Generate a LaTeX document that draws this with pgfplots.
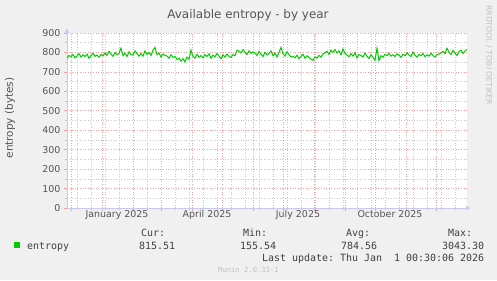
\documentclass[border=0pt]{standalone}
\usepackage{fontspec}
\setmainfont{DejaVu Sans}
\newfontfamily\monofont{DejaVu Sans Mono}
\usepackage{pgfplots}
\pgfplotsset{compat=1.18}
\usetikzlibrary{arrows.meta}
\definecolor{bg}{HTML}{F0F0F0}
\definecolor{txt}{HTML}{555555}
\definecolor{ltxt}{HTML}{404040}
\definecolor{axc}{HTML}{C8C8F0}
\definecolor{mgrid}{HTML}{F2A0A0}
\definecolor{ngrid}{HTML}{C8C8C8}
\definecolor{lgreen}{HTML}{00CC00}
\definecolor{faint}{HTML}{C0C0C0}
\begin{document}
\begin{tikzpicture}[x=1bp,y=1bp]
\path[fill=bg, use as bounding box] (0,0) rectangle (497,280);
\begin{axis}[
  at={(67bp,72bp)}, anchor=south west,
  scale only axis, width=400bp, height=175bp,
  xmin=-35, xmax=365, ymin=0, ymax=900,
  axis background/.style={fill=white},
  axis lines=left,
  axis line style={draw=axc, line width=0.8bp},
  every outer x axis line/.append style={-{Latex[length=5bp,width=5bp]}, shorten >=-4bp},
  every outer y axis line/.append style={-{Latex[length=5bp,width=5bp]}, shorten >=-5bp},
  xtick={-31,0,31,59,90,120,151,181,212,243,273,304,334},
  xticklabels={},
  minor xtick={-25,-11,3,17,31,45,59,73,87,101,115,129,143,157,171,185,199,213,227,241,255,269,283,297,311,325,339,353},
  extra x ticks={15,105,196,288},
  extra x tick labels={January 2025,April 2025,July 2025,October 2025},
  extra x tick style={grid=none, major tick length=0pt, tick label style={yshift=1bp}},
  ytick={0,100,...,900},
  minor ytick={50,150,...,850},
  grid=both,
  major grid style={draw=mgrid, line width=0.6bp, dotted},
  minor grid style={draw=ngrid, line width=0.6bp, dotted},
  tick align=outside,
  major tick length=3bp, minor tick length=2bp,
  major tick style={draw=mgrid, line width=0.6bp},
  minor tick style={draw=ngrid, line width=0.6bp},
  tick label style={font=\fontsize{9.5}{11}\selectfont, text=txt},
  /pgf/number format/assume math mode=true,
]
\addplot[lgreen, line width=1bp, mark=none] coordinates {
(-35,770)(-33,785)(-31,778)(-29,790)(-27,772)(-25,781)(-23,795)(-21,776)(-19,788)(-17,779)(-15,792)(-13,770)(-11,784)(-9,796)(-7,780)(-5,787)(-3,775)
(-1,790)(1,782)(3,798)(5,785)(7,806)(9,792)(11,780)(13,800)(15,788)(17,795)(19,822)(21,784)(23,797)(25,779)(27,803)(29,790)(31,786)(33,808)(35,794)(37,781)
(39,795)(41,781)(43,808)(45,790)(47,799)(49,784)(51,812)(53,826)(55,788)(57,797)(59,776)(61,792)(63,785)
(65,782)(67,770)(69,788)(71,775)(73,779)(75,764)(77,771)(79,755)(81,768)(83,752)(85,776)(87,765)(89,812)(91,780)(93,771)(95,790)(97,776)
(99,784)(101,772)(103,789)(105,779)(107,793)(109,770)(111,786)(113,777)(115,795)(117,781)(119,768)(121,788)(123,776)(125,792)(127,780)(129,774)(131,789)(133,783)
(135,812)(137,806)(139,798)(141,815)(143,801)(145,790)(147,808)(149,796)(151,803)
(153,798)(155,784)(157,805)(159,790)(161,779)(163,801)(165,787)(167,795)(169,808)(171,783)(173,797)(175,776)(177,800)(179,826)(181,793)(183,781)(185,804)(187,789)(189,777)
(191,780)(193,772)(195,786)(197,768)(199,779)(201,791)(203,770)(205,783)(207,774)(209,766)(211,760)(213,778)(215,771)(217,785)(219,776)(221,793)
(223,798)(225,806)(227,790)(229,812)(231,801)(233,815)(235,797)(237,808)(239,788)(241,818)(243,795)
(245,787)(247,778)(249,794)(251,781)(253,799)(255,772)(257,790)(259,784)(261,777)(263,796)(265,780)(267,769)(269,788)(271,775)(273,760)(275,822)(277,758)(279,783)(281,776)
(283,790)(285,784)(287,796)(289,781)(291,788)(293,779)(295,793)(297,786)(299,775)(301,791)(303,783)(305,798)(307,787)(309,779)(311,802)(313,785)(315,776)(317,790)(319,783)(321,795)(323,778)(325,788)(327,781)(329,797)(331,784)(333,776)(335,789)(337,792)
(339,798)(341,806)(343,793)(345,822)(347,801)(349,790)(351,811)(353,797)(355,784)(357,805)(359,812)(361,795)(363,808)(365,815)
};
\end{axis}
% title and labels
\node[anchor=base, inner sep=0, text=txt, font=\fontsize{12}{14}\selectfont] at (248,262) {Available entropy - by year};
\node[rotate=90, inner sep=0, text=txt, font=\fontsize{10.5}{12}\selectfont] at (10,162) {entropy (bytes)};
\node[rotate=-90, anchor=west, inner sep=0, text=faint, font=\fontsize{7.8}{9}\selectfont] at (489,275) {RRDTOOL / TOBI OETIKER};
% legend
\fill[lgreen] (14,32) rectangle (20,38);
\begin{scope}[every node/.style={anchor=base west, inner sep=0, text=ltxt, font=\monofont\fontsize{10}{12}\selectfont}]
\node at (27,30.5) {entropy};
\node at (141,43.5) {Cur:};
\node at (139,30.5) {815.51};
\node at (243,43.5) {Min:};
\node at (240,30.5) {155.54};
\node at (346,43.5) {Avg:};
\node at (341,30.5) {784.56};
\node at (448,43.5) {Max:};
\node at (442,30.5) {3043.30};
\node at (262,19) {Last update:\ Thu Jan\ \ 1 00:30:06 2026};
\end{scope}
\node[anchor=base west, inner sep=0, text=faint, font=\monofont\fontsize{7.2}{8}\selectfont] at (218,8) {Munin 2.0.33-1};
\end{tikzpicture}
\end{document}
